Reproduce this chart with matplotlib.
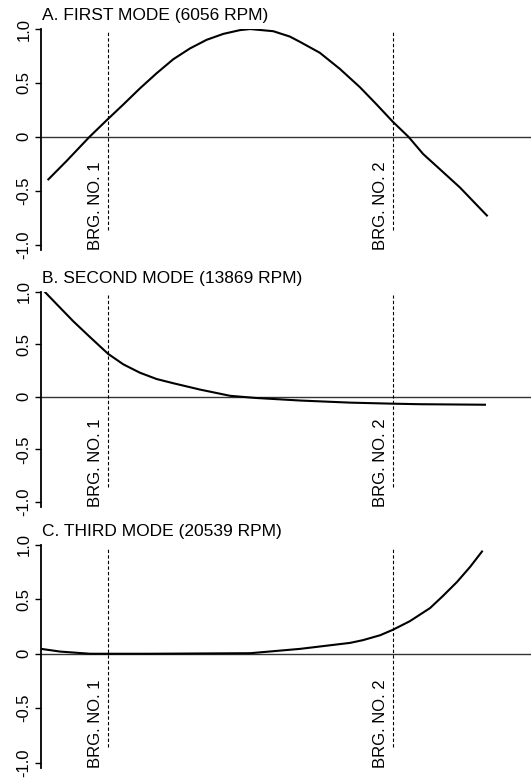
import matplotlib.pyplot as plt

plt.rcParams['font.family'] = ['Liberation Sans', 'DejaVu Sans']

# shaft position (0-100) and normalized mode shape amplitudes
titles = ['A. FIRST MODE (6056 RPM)', 'B. SECOND MODE (13869 RPM)', 'C. THIRD MODE (20539 RPM)']

x_a = [1.5, 5.2, 9.9, 13.7, 16.8, 20.2, 23.6, 27.0, 30.4, 33.8, 37.2, 40.6, 42.7, 47.4,
       50.8, 52.9, 56.9, 61.0, 65.1, 68.5, 71.8, 75.0, 78.0, 81.4, 85.5, 91.0]
y_a = [-0.395, -0.225, 0.0, 0.167, 0.30, 0.45, 0.59, 0.72, 0.82, 0.90, 0.955, 0.99, 1.0, 0.98,
       0.93, 0.88, 0.78, 0.63, 0.46, 0.30, 0.14, 0.0, -0.16, -0.30, -0.47, -0.73]

x_b = [0.8, 3.9, 6.6, 10.0, 13.7, 16.8, 20.2, 23.6, 27.0, 32.4, 38.6, 43.7, 52.9, 63.1, 71.8, 77.3, 90.6]
y_b = [1.0, 0.85, 0.72, 0.57, 0.41, 0.31, 0.23, 0.17, 0.13, 0.07, 0.01, -0.01, -0.035, -0.055, -0.065, -0.07, -0.075]

x_c = [0.0, 3.9, 10.0, 22.2, 42.7, 52.9, 63.1, 65.7, 69.2, 71.8, 75.3, 79.4, 82.0, 84.9, 87.6, 90.0]
y_c = [0.045, 0.02, 0.0, 0.0, 0.005, 0.045, 0.10, 0.125, 0.17, 0.22, 0.30, 0.42, 0.53, 0.66, 0.80, 0.94]

bearings = [13.7, 71.8]
bearing_labels = ['BRG. NO. 1', 'BRG. NO. 2']

yticks = [-1.0, -0.5, 0, 0.5, 1.0]
ytick_labels = ['-1.0', '-0.5', '0', '0.5', '1.0']

fig = plt.figure(figsize=(5.31, 7.83), dpi=100)

# axes boxes in figure fractions [left, bottom, width, height]
boxes = [[0.0772, 0.6807, 0.9228, 0.2822],
         [0.0772, 0.3525, 0.9228, 0.2746],
         [0.0772, 0.0192, 0.9228, 0.2848]]

for title, box, xs, ys in zip(titles, boxes, [x_a, x_b, x_c], [y_a, y_b, y_c]):
    ax = fig.add_axes(box)
    ax.set_xlim(0, 100)
    ax.set_ylim(-1.05, 1.0)

    ax.axhline(0, color='#333333', lw=1.0)
    ax.plot(xs, ys, color='black', lw=1.5, solid_joinstyle='round')

    for b, lab in zip(bearings, bearing_labels):
        ax.vlines(b, -0.86, 0.97, colors='black', linestyles=(0, (3, 2)), lw=0.8)
        ax.text(b - 2.6, -1.05, lab, rotation=90, ha='center', va='bottom', fontsize=12)

    for s in ['top', 'right', 'bottom']:
        ax.spines[s].set_visible(False)
    ax.spines['left'].set_linewidth(1.3)
    ax.set_xticks([])
    ax.set_yticks(yticks)
    ax.set_yticklabels(ytick_labels, rotation=90, va='center', fontsize=12)
    ax.tick_params(axis='y', length=4, width=1, pad=3)

    top = box[1] + box[3]
    fig.text(box[0] + 0.002, top + 0.008, title, ha='left', va='bottom', fontsize=12.5)

plt.savefig('out.png', dpi=100)
